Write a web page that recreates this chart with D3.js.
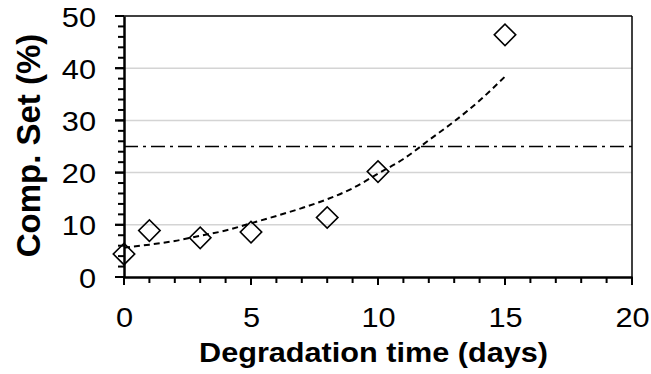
<html>
<head>
  <meta charset="utf-8" />
  <script src="https://cdnjs.cloudflare.com/ajax/libs/d3/7.8.5/d3.min.js"></script>
  <style>
    body { margin: 0; background: #fff; }
    text { font-family: "Liberation Sans", Arial, sans-serif; fill: #000; }
  </style>
</head>
<body>
  <svg id="chart" width="651" height="374"></svg>
  <script>
    // measured points
    var days = [0, 1, 3, 5, 8, 10, 15]
    var compSet = [4.4, 8.9, 7.5, 8.6, 11.4, 20.2, 46.4]

    // trend line
    var trendDays = [0, 1, 2, 3, 4, 5, 6, 7, 8, 9, 10, 11, 12, 13, 14, 15]
    var trendVals = [5.6, 6.2, 6.9, 7.9, 8.9, 10.3, 11.7, 13.2, 14.9, 17.0, 19.8, 22.6, 26.2, 29.8, 33.8, 38.4]

    var limitVal = 25
    var xTicks = [0, 5, 10, 15, 20]
    var yTicks = [0, 10, 20, 30, 40, 50]

    var margin = {top: 16, right: 19, bottom: 97, left: 124}
    var W = 651, H = 374
    var w = W - margin.left - margin.right
    var h = H - margin.top - margin.bottom

    var svg = d3.select("#chart")
    var g = svg.append("g").attr("transform", `translate(${margin.left},${margin.top})`)

    var x = d3.scaleLinear().domain([0, 20]).range([0, w])
    var y = d3.scaleLinear().domain([0, 50]).range([h, 0])

    // gridlines
    g.selectAll(".grid")
      .data(yTicks.filter(d => d > 0 && d < 50))
      .enter().append("line")
        .attr("x1", 0).attr("x2", w)
        .attr("y1", d => y(d)).attr("y2", d => y(d))
        .style("stroke", "#d4d4d4")
        .style("stroke-width", 1.5)

    // frame top + right
    g.append("line").attr("x1", 0).attr("x2", w).attr("y1", 0).attr("y2", 0)
      .style("stroke", "#000").style("stroke-width", 1.5)
    g.append("line").attr("x1", w).attr("x2", w).attr("y1", 0).attr("y2", h)
      .style("stroke", "#000").style("stroke-width", 1.5)

    // minor ticks
    g.selectAll(".xminor")
      .data(d3.range(0, 21))
      .enter().append("line")
        .attr("x1", d => x(d)).attr("x2", d => x(d))
        .attr("y1", h).attr("y2", d => h + (d % 5 === 0 ? 8 : 6))
        .style("stroke", "#000").style("stroke-width", 2)
    g.selectAll(".yminor")
      .data(d3.range(0, 51, 2).concat(yTicks))
      .enter().append("line")
        .attr("y1", d => y(d)).attr("y2", d => y(d))
        .attr("x1", 0).attr("x2", d => d % 10 === 0 ? -9 : -6)
        .style("stroke", "#000").style("stroke-width", 2)

    // axes
    var xAxis = g.append("g").attr("transform", `translate(0,${h})`)
      .call(d3.axisBottom(x).tickValues(xTicks).tickSize(0).tickPadding(30).tickSizeOuter(0))
    var yAxis = g.append("g")
      .call(d3.axisLeft(y).tickValues(yTicks).tickSize(0).tickPadding(28).tickSizeOuter(0))
    ;[xAxis, yAxis].forEach(a => {
      a.select(".domain").style("stroke", "#000").style("stroke-width", 2.5)
      a.selectAll("text")
        .style("font-size", "28px")
        .style("font-family", "Liberation Sans, Arial, sans-serif")
        .attr("textLength", d => String(d).length * 17.1)
        .attr("lengthAdjust", "spacingAndGlyphs")
    })
    yAxis.selectAll("text").attr("dy", "0.36em")

    // limit line
    g.append("line")
      .attr("x1", x(0)).attr("x2", x(20))
      .attr("y1", y(limitVal)).attr("y2", y(limitVal))
      .style("stroke", "#000").style("stroke-width", 1.6)
      .style("stroke-dasharray", "14,5,3,5")

    // trend
    var line = d3.line().x((d, i) => x(trendDays[i])).y(d => y(d)).curve(d3.curveMonotoneX)
    g.append("path")
      .attr("d", line(trendVals))
      .style("fill", "none")
      .style("stroke", "#000")
      .style("stroke-width", 2)
      .style("stroke-dasharray", "6,4")

    // diamonds
    var sym = d3.symbol().type(d3.symbolSquare).size(230)
    g.selectAll(".pt")
      .data(compSet)
      .enter().append("path")
        .attr("d", sym)
        .attr("transform", (d, i) => `translate(${x(days[i])},${y(d)}) rotate(45)`)
        .style("fill", "none")
        .style("stroke", "#000")
        .style("stroke-width", 1.6)

    // titles
    svg.append("text")
      .attr("x", 199)
      .attr("y", 362)
      .attr("textLength", 349)
      .attr("lengthAdjust", "spacingAndGlyphs")
      .style("font-size", "27px")
      .style("font-weight", "bold")
      .text("Degradation time (days)")
    svg.append("text")
      .attr("transform", "translate(40,145.5) rotate(-90)")
      .attr("text-anchor", "middle")
      .style("font-size", "33px")
      .style("font-weight", "bold")
      .text("Comp. Set (%)")
  </script>
</body>
</html>
